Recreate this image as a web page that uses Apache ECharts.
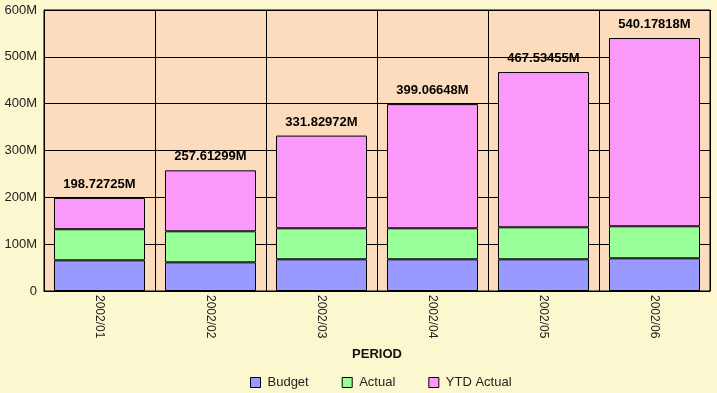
<!DOCTYPE html>
<html>
<head>
<meta charset="utf-8">
<script src="https://cdn.jsdelivr.net/npm/echarts@6/dist/echarts.min.js"></script>
<style>
html,body{margin:0;padding:0;background:#fbf8cf;}
#chart{width:717px;height:393px;}
</style>
</head>
<body>
<div id="chart"></div>
<script>
// Values in millions
const categories = ['2002/01','2002/02','2002/03','2002/04','2002/05','2002/06'];
const budget = [65.5, 61.2, 67.7, 67.7, 67.7, 69.8];
const actual = [66.4, 66.3, 66.2, 66.2, 68.3, 68.4];
const ytdActual = [66.82725, 130.11299, 197.92972, 265.16648, 331.53455, 401.97818];
const yTicks = [0, 100, 200, 300, 400, 500, 600];

const FONT = '"Liberation Sans", Arial, sans-serif';
const chart = echarts.init(document.getElementById('chart'));
const barBorder = { borderColor: '#000', borderWidth: 1 };
chart.setOption({
  backgroundColor: '#fbf8cf',
  animation: false,
  textStyle: { fontFamily: FONT },
  grid: { left: 44, right: 7, top: 10, bottom: 102, show: true, backgroundColor: '#fcdcbc', borderColor: '#000', borderWidth: 1 },
  legend: {
    top: 371, left: 245, itemWidth: 10, itemHeight: 10, itemGap: 33, icon: 'rect',
    textStyle: { fontSize: 13, color: '#222', fontFamily: FONT, padding: [0, 0, 0, 2] },
    itemStyle: { borderColor: '#000', borderWidth: 1 },
    data: ['Budget', 'Actual', 'YTD Actual']
  },
  xAxis: {
    type: 'category', data: categories,
    name: 'PERIOD', nameLocation: 'middle', nameGap: 57,
    nameTextStyle: { fontWeight: 'bold', fontSize: 13, color: '#111', fontFamily: FONT },
    axisLine: { lineStyle: { color: '#000' } },
    axisTick: { show: false },
    axisLabel: { rotate: -90, margin: 4, fontSize: 12, color: '#222', fontFamily: FONT },
    splitLine: { show: true, lineStyle: { color: '#000', width: 1 } }
  },
  yAxis: {
    type: 'value', min: yTicks[0], max: yTicks[yTicks.length - 1], interval: 100,
    axisLine: { show: true, lineStyle: { color: '#000' } },
    axisTick: { show: false },
    axisLabel: { fontSize: 13, color: '#222', margin: 7, fontFamily: FONT, formatter: v => v === 0 ? '0' : v + 'M' },
    splitLine: { show: true, lineStyle: { color: '#000', width: 1 } }
  },
  series: [
    { name: 'Budget', type: 'bar', stack: 's', data: budget, barCategoryGap: '18%', itemStyle: Object.assign({ color: '#9999ff' }, barBorder) },
    { name: 'Actual', type: 'bar', stack: 's', data: actual, itemStyle: Object.assign({ color: '#99ff99' }, barBorder) },
    { name: 'YTD Actual', type: 'bar', stack: 's', data: ytdActual, itemStyle: Object.assign({ color: '#fa99fa' }, barBorder),
      label: { show: true, position: 'top', distance: 7, fontWeight: 'bold', fontSize: 13, color: '#000', fontFamily: FONT,
        formatter: p => (budget[p.dataIndex] + actual[p.dataIndex] + ytdActual[p.dataIndex]).toFixed(5) + 'M' } }
  ]
});
</script>
</body>
</html>
